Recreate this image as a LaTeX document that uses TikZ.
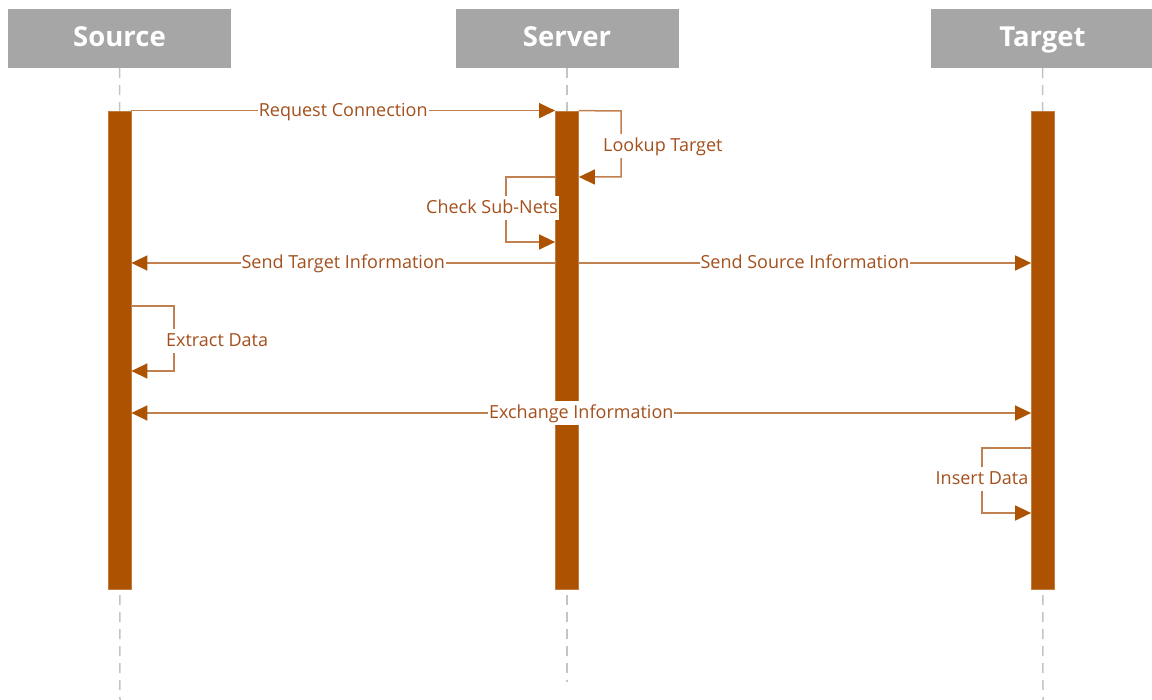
\documentclass[tikz,border=0pt]{standalone}
\usepackage{fontspec}
\setmainfont{Open Sans}
\usetikzlibrary{arrows.meta}
\definecolor{barbrown}{HTML}{AD5200}
\definecolor{linebrown}{HTML}{C08050}
\definecolor{labelbrown}{HTML}{A4501C}
\definecolor{headgray}{HTML}{A6A6A6}
\definecolor{lifegray}{HTML}{C4C4C4}
\begin{document}
\begin{tikzpicture}[x=1pt,y=-1pt,
  >={Triangle[length=16pt,width=15pt,color=barbrown]},
  header/.style={fill=headgray, text=white, font=\bfseries\fontsize{27.5}{30}\selectfont,
    minimum width=223pt, minimum height=59pt, inner sep=0pt,
    text height=20pt, text depth=3pt},
  lifeline/.style={draw=lifegray, line width=1.5pt, dash pattern=on 10pt off 7pt},
  actbar/.style={fill=barbrown, draw=barbrown!75!white, line width=0.8pt,
    minimum width=23pt, minimum height=478pt, inner sep=0pt},
  msg/.style={draw=linebrown, line width=1.5pt, ->},
  bimsg/.style={draw=linebrown, line width=1.5pt, <->},
  loopmsg/.style={draw=linebrown, line width=1.5pt, ->},
  lbl/.style={fill=white, text=labelbrown, font=\fontsize{18}{20}\selectfont,
    inner xsep=1pt, inner ysep=3pt, text height=15pt, text depth=3pt}
]
\useasboundingbox (0,0) rectangle (1152,700);

% participants
\node[header] (src) at (119.5,38.5) {Source};
\node[header] (srv) at (567,38.5) {Server};
\node[header] (tgt) at (1042.5,38.5) {Target};

% lifelines
\coordinate (srcend) at (120,700);
\coordinate (srvend) at (567,682);
\coordinate (tgtend) at (1043,700);
\draw[lifeline] (src.south) -- (srcend);
\draw[lifeline] (srv.south) -- (srvend);
\draw[lifeline] (tgt.south) -- (tgtend);

% activation bars
\node[actbar] (srcbar) at (119.5,350) {};
\node[actbar] (srvbar) at (567,350) {};
\node[actbar] (tgtbar) at (1043,350) {};

% Request Connection
\draw[msg] (srcbar.north east) -- node[lbl] {Request Connection} (srvbar.north west);

% Lookup Target (self call on server)
\draw[loopmsg] (srvbar.north east) -- (621,111) -- (621,177) -- (srvbar.east |- 0,177);
\node[lbl, anchor=west] (lookup) at (602,146) {Lookup Target};

% Check Sub-Nets (self call on server)
\draw[loopmsg] (srvbar.west |- 0,177) -- (506,177) -- (506,242) -- (srvbar.west |- 0,242);
\node[lbl] (subnets) at (492,208) {Check Sub-Nets};

% Send Target / Source Information
\draw[msg] (srvbar.west |- 0,263) -- node[lbl] {Send Target Information} (srcbar.east |- 0,263);
\draw[msg] (srvbar.east |- 0,263) -- node[lbl] {Send Source Information} (tgtbar.west |- 0,263);

% Extract Data (self call on source)
\draw[loopmsg] (srcbar.east |- 0,306) -- (174,306) -- (174,371) -- (srcbar.east |- 0,371);
\node[lbl, anchor=west] (extract) at (165,341) {Extract Data};

% Exchange Information
\draw[bimsg] (srcbar.east |- 0,413) -- node[lbl, pos=0.5] {Exchange Information} (tgtbar.west |- 0,413);

% Insert Data (self call on target)
\draw[loopmsg] (tgtbar.west |- 0,448) -- (982,448) -- (982,513) -- (tgtbar.west |- 0,513);
\node[lbl] (insert) at (982,479) {Insert Data};
\end{tikzpicture}
\end{document}
